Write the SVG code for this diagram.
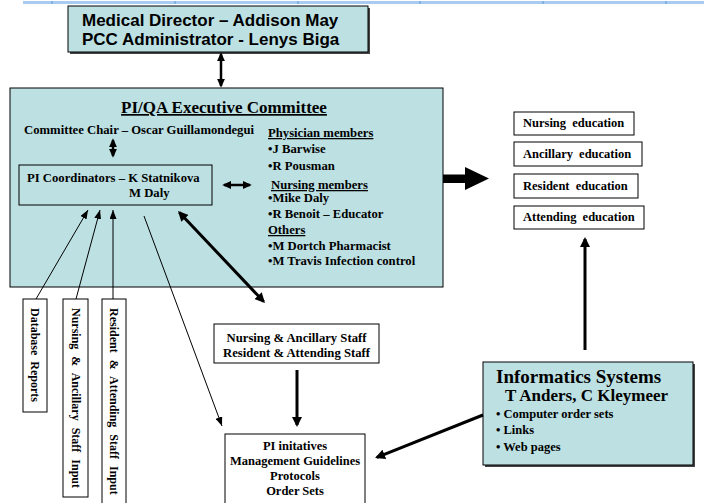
<svg xmlns="http://www.w3.org/2000/svg" width="704" height="503" viewBox="0 0 704 503">
<defs>
<style>
.teal{fill:#bde0e3;stroke:#000;stroke-width:1}
.box{fill:#fff;stroke:#000;stroke-width:1}
.nofill{fill:none;stroke:#000;stroke-width:1}
.shadow{fill:#444}
.t{font-family:"Liberation Serif","Times New Roman",serif;font-weight:bold;fill:#000;font-size:12.7px}
.a{font-family:"Liberation Sans",Arial,sans-serif;font-weight:bold;fill:#000;font-size:17px}
.thin{stroke:#000;stroke-width:1;fill:none}
.thick{stroke:#000;stroke-width:3;fill:none}
.mid{stroke:#000;stroke-width:2.5;fill:none}
.ws{word-spacing:3px}
.edu{font-size:12.5px}
.rot{font-size:12px}
</style>
<marker id="hd" viewBox="0 0 10 10" refX="8" refY="5" markerWidth="10" markerHeight="10" markerUnits="userSpaceOnUse" orient="auto-start-reverse" preserveAspectRatio="none">
<path d="M0,0 L10,5 L0,10 z" fill="#000"/>
</marker>
<marker id="hs" viewBox="0 0 10 10" refX="8" refY="5" markerWidth="9" markerHeight="8" markerUnits="userSpaceOnUse" orient="auto-start-reverse" preserveAspectRatio="none">
<path d="M0,0 L10,5 L0,10 z" fill="#000"/>
</marker>
<marker id="ht" viewBox="0 0 10 10" refX="10" refY="5" markerWidth="9" markerHeight="7" markerUnits="userSpaceOnUse" orient="auto" preserveAspectRatio="none">
<path d="M0,0 L10,5 L0,10 z" fill="#000"/>
</marker>
</defs>

<g id="topbar">
<line x1="23" y1="2.5" x2="704" y2="2.5" stroke="#a8cbef" stroke-width="3"/>
<g stroke="#5b9bd5" stroke-width="1">
<line x1="52" y1="1" x2="52" y2="4"/><line x1="175" y1="1" x2="175" y2="4"/><line x1="298" y1="1" x2="298" y2="4"/>
<line x1="420" y1="1" x2="420" y2="4"/><line x1="543" y1="1" x2="543" y2="4"/><line x1="666" y1="1" x2="666" y2="4"/>
</g>
</g>

<g id="medical-director">
<rect class="shadow" x="70" y="8" width="300" height="46"/>
<rect class="teal" x="68" y="6" width="300" height="46"/>
<text class="a" x="82" y="26">Medical Director – Addison May</text>
<text class="a" x="82" y="45">PCC Administrator - Lenys Biga</text>
</g>

<g id="executive-committee">
<rect class="teal" x="10" y="88" width="433" height="199"/>
<text class="t" x="224" y="113" text-anchor="middle" text-decoration="underline" style="font-size:17px">PI/QA Executive Committee</text>
<text class="t" x="24" y="134">Committee Chair – Oscar Guillamondegui</text>
<text class="t" x="268" y="137" text-decoration="underline">Physician members</text>
<text class="t" x="268" y="153">•J Barwise</text>
<text class="t" x="268" y="170">•R Pousman</text>
<text class="t" x="271" y="189" text-decoration="underline">Nursing members</text>
<text class="t" x="268" y="202">•Mike Daly</text>
<text class="t" x="268" y="218">•R Benoit – Educator</text>
<text class="t" x="268" y="234" text-decoration="underline">Others</text>
<text class="t" x="268" y="250">•M Dortch Pharmacist</text>
<text class="t" x="268" y="265">•M Travis Infection control</text>
</g>

<g id="pi-coordinators">
<rect class="nofill" x="19" y="165" width="193" height="40"/>
<text class="t" x="27" y="182">PI Coordinators – K Statnikova</text>
<text class="t" x="129" y="197">M Daly</text>
</g>

<g id="nursing-education">
<rect class="box" x="514" y="112" width="120" height="23"/>
<text class="t ws edu" x="523" y="127">Nursing education</text>
</g>
<g id="ancillary-education">
<rect class="box" x="514" y="142" width="128" height="24"/>
<text class="t ws edu" x="523" y="158">Ancillary education</text>
</g>
<g id="resident-education">
<rect class="box" x="514" y="174" width="124" height="24"/>
<text class="t ws edu" x="523" y="190">Resident education</text>
</g>
<g id="attending-education">
<rect class="box" x="514" y="206" width="130" height="23"/>
<text class="t ws edu" x="523" y="221">Attending education</text>
</g>

<g id="database-reports">
<rect class="box" x="23" y="299" width="24" height="113"/>
<text class="t ws rot" transform="translate(31,308) rotate(90)">Database Reports</text>
</g>
<g id="nursing-staff-input">
<rect class="box" x="63" y="299" width="25" height="198"/>
<text class="t ws rot" transform="translate(71.5,308) rotate(90)" style="word-spacing:4px">Nursing &amp; Ancillary Staff Input</text>
</g>
<g id="resident-staff-input">
<rect class="box" x="102" y="299" width="24" height="210"/>
<text class="t ws rot" transform="translate(110,308) rotate(90)" style="word-spacing:4px">Resident &amp; Attending Staff Input</text>
</g>

<g id="staff">
<rect class="box" x="214" y="324" width="165" height="39"/>
<text class="t" x="296.5" y="342" text-anchor="middle">Nursing &amp; Ancillary Staff</text>
<text class="t" x="296.5" y="357" text-anchor="middle">Resident &amp; Attending Staff</text>
</g>

<g id="pi-initiatives">
<rect class="box" x="225" y="434" width="140" height="75"/>
<text class="t" x="295" y="450" text-anchor="middle" style="font-size:12.5px">PI initatives</text>
<text class="t" x="295" y="465" text-anchor="middle" style="font-size:12.5px">Management Guidelines</text>
<text class="t" x="295" y="480" text-anchor="middle" style="font-size:12.5px">Protocols</text>
<text class="t" x="295" y="495" text-anchor="middle" style="font-size:12.5px">Order Sets</text>
</g>

<g id="informatics">
<rect class="shadow" x="485" y="364" width="210" height="103"/>
<rect class="teal" x="483" y="362" width="210" height="103"/>
<text class="t" x="496" y="383" style="font-size:19px">Informatics Systems</text>
<text class="t" x="505" y="401" style="font-size:17px">T Anders, C Kleymeer</text>
<text class="t" x="496" y="418" style="font-size:12.5px">• Computer order sets</text>
<text class="t" x="496" y="434" style="font-size:12.5px">• Links</text>
<text class="t" x="496" y="451" style="font-size:12.5px">• Web pages</text>
</g>

<g id="connectors">
<line class="mid" x1="221" y1="54" x2="221" y2="86" marker-start="url(#hs)" marker-end="url(#hs)"/>
<line class="mid" x1="113" y1="140" x2="113" y2="156" marker-start="url(#hs)" marker-end="url(#hs)"/>
<line class="mid" x1="224" y1="185" x2="250" y2="185" marker-start="url(#hs)" marker-end="url(#hs)"/>
<line class="thick" x1="179.4" y1="212.5" x2="263.6" y2="301.5" marker-start="url(#hd)" marker-end="url(#hd)"/>
<line class="thick" x1="297" y1="370" x2="297" y2="425" marker-end="url(#hd)"/>
<line class="thick" x1="585" y1="350" x2="585" y2="239" marker-end="url(#hd)"/>
<line class="thick" x1="483" y1="415" x2="376.9" y2="457.3" marker-end="url(#hd)"/>
<line class="thin" x1="36" y1="299" x2="88" y2="210" marker-end="url(#ht)"/>
<line class="thin" x1="76" y1="299" x2="100" y2="210" marker-end="url(#ht)"/>
<line class="thin" x1="113" y1="299" x2="113" y2="210" marker-end="url(#ht)"/>
<line class="thin" x1="144" y1="216" x2="222" y2="426" marker-end="url(#ht)"/>
<polygon points="443,174.5 465,174.5 465,167 489,178.5 465,190 465,183 443,183" fill="#000"/>
</g>
</svg>
